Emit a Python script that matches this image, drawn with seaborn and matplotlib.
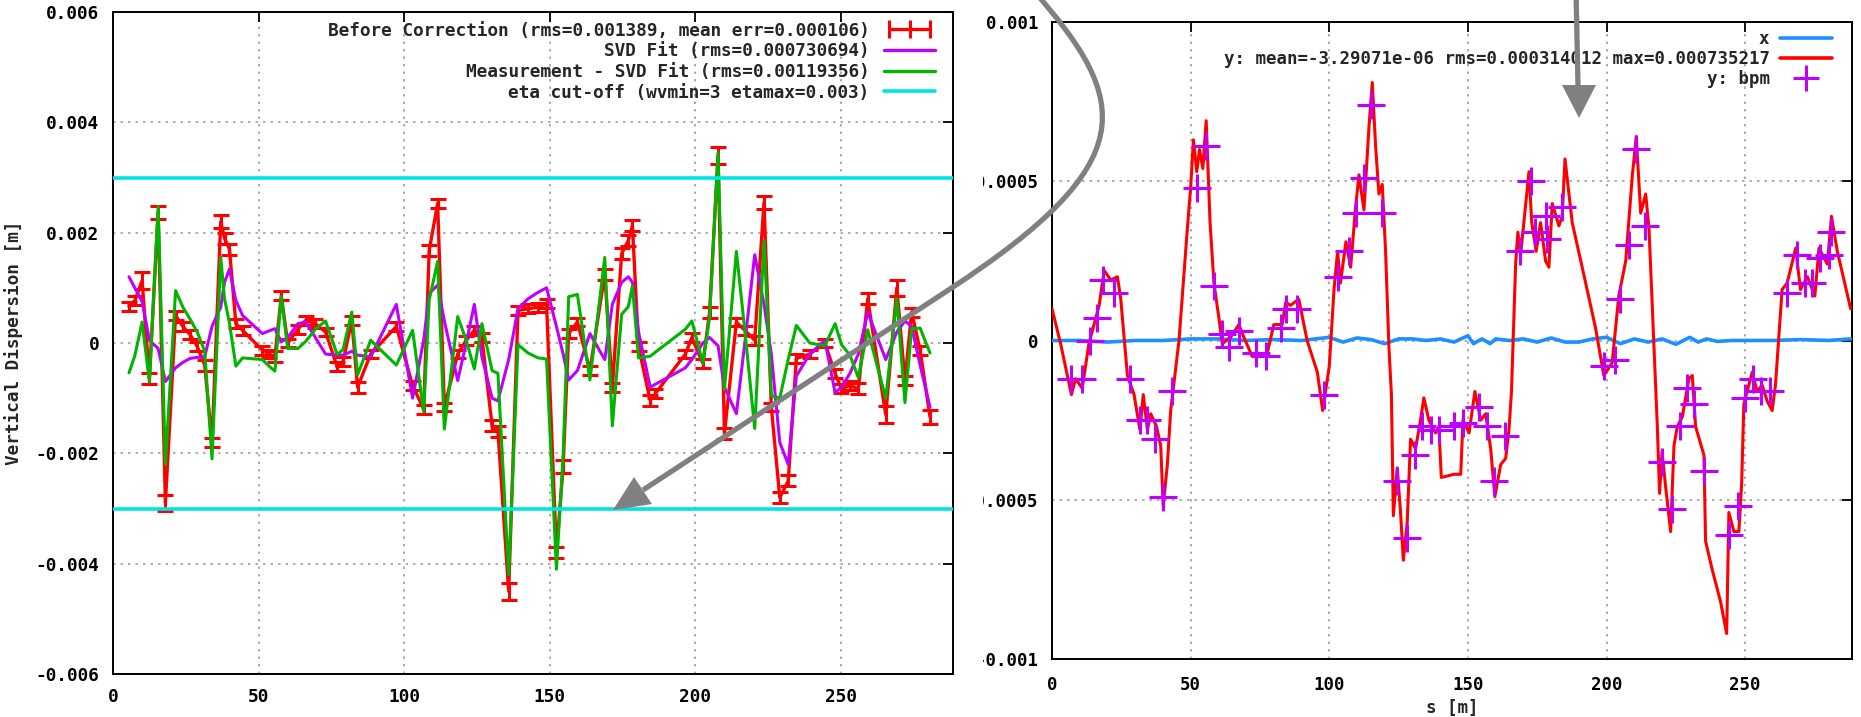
import matplotlib
matplotlib.use("Agg")
import numpy as np
import pandas as pd
import matplotlib.pyplot as plt
import seaborn as sns
from matplotlib.lines import Line2D
from matplotlib.legend_handler import HandlerLine2D
from matplotlib.path import Path
from matplotlib.patches import PathPatch, Polygon

# ---------------- left panel data (vertical dispersion at BPMs) ----------------
bpm_s = [5.5, 7.5, 10.0, 12.5, 15.5, 18.0, 21.5, 24.0, 26.5, 29.0,
         31.5, 34.0, 37.0, 38.3, 40.0, 42.2, 44.5, 51.3, 53.6, 55.6,
         57.8, 60.0, 63.5, 66.2, 69.5, 73.0, 77.0, 79.0, 82.0, 84.0,
         88.5, 97.3, 102.9, 106.7, 108.6, 111.5, 113.8, 118.4, 121.3, 124.1,
         126.7, 130.2, 132.2, 135.9, 139.1, 142.5, 146.0, 148.9, 152.3, 154.6,
         156.5, 159.5, 163.8, 168.9, 171.5, 174.7, 177.0, 178.4, 180.5, 184.5,
         186.2, 196.6, 198.8, 202.6, 204.9, 207.8, 210.0, 214.1, 217.0, 220.4,
         223.6, 226.1, 229.0, 231.9, 234.7, 239.3, 244.5, 248.0, 250.2, 253.1,
         256.0, 259.2, 265.4, 269.2, 272.0, 274.3, 277.2, 280.6]
before_corr = [0.00066, 0.00077, 0.00113, -0.00065, 0.00237, -0.00290, 0.00050, 0.00030, 0.00015, -0.00007,
               -0.00040, -0.00180, 0.00220, 0.00190, 0.00170, 0.00035, 0.00023, -0.00013, -0.00020, -0.00025,
               0.00086, 0.00000, 0.00025, 0.00041, 0.00035, 0.00020, -0.00043, -0.00034, 0.00041, -0.00080,
               -0.00020, 0.00030, -0.00077, -0.00120, 0.00168, 0.00253, -0.00116, -0.00020, 0.00005, 0.00023,
               0.00010, -0.00150, -0.00160, -0.00450, 0.00059, 0.00062, 0.00065, 0.00071, -0.00380, -0.00224,
               0.00017, 0.00038, -0.00050, 0.00125, -0.00080, 0.00162, 0.00186, 0.00213, -0.00007, -0.00104,
               -0.00092, -0.00020, 0.00010, -0.00037, 0.00056, 0.00340, -0.00164, 0.00038, 0.00023, 0.00005,
               0.00255, -0.00116, -0.00280, -0.00250, -0.00028, -0.00020, 0.00000, -0.00055, -0.00083, -0.00077,
               -0.00083, 0.00080, -0.00130, 0.00100, -0.00068, 0.00056, -0.00013, -0.00134]
before_err = [0.00008, 0.00008, 0.00015, 0.00010, 0.00012, 0.00015, 0.00008, 0.00008, 0.00008, 0.00008,
              0.00010, 0.00008, 0.00012, 0.00010, 0.00010, 0.00008, 0.00008, 0.00008, 0.00008, 0.00010,
              0.00008, 0.00008, 0.00008, 0.00008, 0.00008, 0.00008, 0.00008, 0.00008, 0.00008, 0.00010,
              0.00008, 0.00008, 0.00008, 0.00008, 0.00010, 0.00008, 0.00008, 0.00008, 0.00008, 0.00008,
              0.00008, 0.00010, 0.00010, 0.00015, 0.00008, 0.00008, 0.00008, 0.00008, 0.00010, 0.00012,
              0.00008, 0.00008, 0.00008, 0.00010, 0.00008, 0.00010, 0.00010, 0.00010, 0.00008, 0.00010,
              0.00008, 0.00008, 0.00008, 0.00008, 0.00010, 0.00015, 0.00010, 0.00008, 0.00008, 0.00008,
              0.00012, 0.00008, 0.00010, 0.00010, 0.00008, 0.00008, 0.00008, 0.00008, 0.00008, 0.00008,
              0.00010, 0.00010, 0.00015, 0.00015, 0.00008, 0.00008, 0.00008, 0.00012]
svd_fit = [0.00120, 0.00100, 0.00075, 0.00005, -0.00010, -0.00070, -0.00045, -0.00035, -0.00028, -0.00026,
           -0.00025, 0.00030, 0.00065, 0.00110, 0.00134, 0.00077, 0.00050, 0.00017, 0.00022, 0.00026,
           0.00002, 0.00010, 0.00035, 0.00038, 0.00010, -0.00020, -0.00022, -0.00022, -0.00015, -0.00022,
           -0.00025, 0.00070, -0.00100, 0.00005, 0.00090, 0.00105, 0.00040, -0.00068, 0.00000, 0.00070,
           -0.00025, -0.00100, -0.00105, -0.00030, 0.00062, 0.00080, 0.00092, 0.00100, 0.00030, -0.00020,
           -0.00067, -0.00050, 0.00017, -0.00030, 0.00070, 0.00110, 0.00120, 0.00110, 0.00020, -0.00080,
           -0.00075, -0.00045, -0.00030, 0.00000, 0.00010, -0.00005, -0.00080, -0.00128, 0.00000, 0.00160,
           0.00070, -0.00020, -0.00180, -0.00220, -0.00060, -0.00020, 0.00005, -0.00090, -0.00080, -0.00055,
           -0.00020, 0.00056, -0.00030, 0.00020, 0.00040, 0.00030, -0.00040, -0.00116]
meas_minus_fit = [-0.00054, -0.00023, 0.00038, -0.00070, 0.00247, -0.00220, 0.00095, 0.00065, 0.00043, 0.00019,
                  -0.00015, -0.00210, 0.00155, 0.00080, 0.00036, -0.00042, -0.00027, -0.00030, -0.00042, -0.00051,
                  0.00084, -0.00010, -0.00010, 0.00003, 0.00025, 0.00040, -0.00021, -0.00012, 0.00056, -0.00058,
                  0.00005, -0.00040, 0.00023, -0.00125, 0.00078, 0.00148, -0.00156, 0.00048, 0.00005, -0.00047,
                  0.00035, -0.00050, -0.00055, -0.00420, -0.00003, -0.00018, -0.00027, -0.00029, -0.00410, -0.00204,
                  0.00084, 0.00088, -0.00067, 0.00155, -0.00150, 0.00052, 0.00066, 0.00103, -0.00027, -0.00024,
                  -0.00017, 0.00025, 0.00040, -0.00037, 0.00046, 0.00345, -0.00084, 0.00166, 0.00023, -0.00155,
                  0.00185, -0.00096, -0.00100, -0.00030, 0.00032, 0.00000, -0.00005, 0.00035, -0.00003, -0.00022,
                  -0.00063, 0.00024, -0.00100, 0.00080, -0.00108, 0.00026, 0.00027, -0.00018]
eta_max = 0.003

left_xticks = [0, 50, 100, 150, 200, 250]
left_yticks = [-0.006, -0.004, -0.002, 0.0, 0.002, 0.004, 0.006]
left_yticklabels = ["-0.006", "-0.004", "-0.002", "0", "0.002", "0.004", "0.006"]
left_labels = ["Before Correction (rms=0.001389, mean err=0.000106)",
               "SVD Fit (rms=0.000730694)",
               "Measurement - SVD Fit (rms=0.00119356)",
               "eta cut-off (wvmin=3 etamax=0.003)"]

# ---------------- right panel data (orbit) ----------------
orbit_s = [0, 3.1, 7.0, 8.5, 10.9, 13.3, 17.0, 18.8, 21.2, 23.6,
           24.8, 27.2, 29.6, 31.7, 32.9, 34.4, 35.6, 37.7, 39.2, 40.1,
           41.6, 42.8, 45.8, 48.8, 50.0, 51.0, 52.2, 53.2, 54.4, 55.6,
           57.0, 58.4, 60.2, 61.4, 64.4, 67.4, 69.2, 72.2, 75.5, 77.6,
           80.0, 83.0, 84.3, 86.0, 89.0, 92.0, 95.7, 97.6, 100.0, 101.7,
           103.0, 104.0, 106.0, 107.7, 109.5, 110.7, 112.5, 114.3, 115.5, 116.7,
           117.9, 119.1, 120.3, 121.5, 122.4, 123.1, 124.5, 125.7, 126.7, 128.1,
           129.3, 131.1, 132.9, 134.1, 135.9, 138.3, 139.5, 140.4, 145.0, 147.4,
           148.2, 150.4, 152.5, 154.6, 156.4, 158.2, 159.7, 161.8, 163.6, 164.8,
           165.7, 167.2, 168.0, 169.0, 172.0, 173.0, 174.6, 176.2, 178.0, 179.2,
           180.4, 182.8, 184.0, 185.0, 187.6, 191.2, 196.0, 199.0, 202.0, 204.4,
           206.9, 209.3, 210.7, 212.3, 214.1, 215.3, 217.0, 218.3, 219.1, 220.0,
           221.3, 223.1, 224.3, 225.5, 227.3, 229.7, 230.9, 232.1, 235.1, 235.7,
           238.1, 241.1, 243.3, 244.1, 245.9, 247.7, 248.7, 249.5, 252.5, 254.3,
           256.1, 257.9, 259.7, 260.9, 263.3, 265.1, 268.2, 269.9, 272.4, 275.1,
           276.6, 279.6, 281.1, 283.2, 288.0]
orbit_y = [0.00010, -0.00001, -0.00017, -0.00012, -0.00015, -0.00001, 0.00011, 0.00022, 0.00019, 0.00020,
           0.00013, -0.00011, -0.00017, -0.00028, -0.00017, -0.00028, -0.00023, -0.00027, -0.00033, -0.00052,
           -0.00039, -0.00022, 0.00000, 0.00035, 0.00048, 0.00063, 0.00053, 0.00060, 0.00054, 0.00069,
           0.00037, 0.00018, 0.00007, -0.00001, 0.00001, 0.00005, 0.00001, -0.00005, -0.00005, -0.00004,
           0.00005, 0.00005, 0.00012, 0.00011, 0.00013, 0.00000, -0.00010, -0.00022, -0.00008, 0.00016,
           0.00028, 0.00018, 0.00031, 0.00023, 0.00042, 0.00052, 0.00041, 0.00067, 0.00081, 0.00061,
           0.00046, 0.00049, 0.00028, -0.00002, -0.00017, -0.00055, -0.00040, -0.00054, -0.00069, -0.00057,
           -0.00031, -0.00034, -0.00025, -0.00018, -0.00025, -0.00029, -0.00027, -0.00043, -0.00042, -0.00042,
           -0.00025, -0.00029, -0.00016, -0.00025, -0.00023, -0.00034, -0.00049, -0.00039, -0.00037, -0.00028,
           -0.00016, 0.00024, 0.00034, 0.00027, 0.00053, 0.00037, 0.00028, 0.00037, 0.00025, 0.00023,
           0.00043, 0.00036, 0.00039, 0.00057, 0.00037, 0.00023, 0.00004, -0.00011, -0.00007, 0.00014,
           0.00025, 0.00052, 0.00064, 0.00040, 0.00046, 0.00035, 0.00000, -0.00027, -0.00048, -0.00035,
           -0.00046, -0.00060, -0.00033, -0.00027, -0.00024, -0.00012, -0.00011, -0.00027, -0.00036, -0.00063,
           -0.00072, -0.00082, -0.00092, -0.00054, -0.00060, -0.00060, -0.00045, -0.00020, -0.00010, -0.00016,
           -0.00014, -0.00019, -0.00022, -0.00014, 0.00016, 0.00018, 0.00029, 0.00016, 0.00020, 0.00014,
           0.00029, 0.00024, 0.00039, 0.00028, 0.00010]
orbit_x_s = [0, 10, 20, 30, 40, 50, 60, 70, 80, 90, 100, 105, 110, 115, 120, 125, 130, 135, 140, 145,
             150, 152, 155, 158, 160, 165, 170, 175, 180, 185, 190, 195, 200, 205, 210, 215, 220, 225, 230, 233,
             236, 240, 245, 250, 260, 270, 280, 288]
orbit_x = [0.0, 0.0, -0.000005, 0.0, 0.0, 0.000005, 0.000005, 0.0, 0.000003, 0.0, 0.00001, -0.000005, 0.000008,
           0.000003, -0.00001, 0.000005, 0.000005, 0.0, 0.000005, -0.000005, 0.000015, -0.00001, 0.000005,
           -0.00001, 0.000005, 0.0, 0.000005, -0.000005, 0.000008, -0.000005, -0.000005, 0.000005, 0.00001,
           -0.00001, 0.000005, -0.000005, 0.000005, -0.000012, 0.00001, -0.000005, 0.000005, -0.000003, 0.0,
           0.0, 0.0, 0.000003, 0.0, 0.000005]
bpm2_s = [6.7, 10.9, 13.6, 16.3, 18.5, 22.4, 28.1, 31.7, 34.4, 37.1,
          40.0, 43.4, 52.4, 55.6, 58.4, 61.2, 63.8, 67.4, 73.4, 77.0,
          82.5, 84.4, 88.5, 98.0, 103.0, 107.0, 109.5, 112.5, 115.0, 118.9,
          124.5, 127.9, 130.9, 133.3, 136.5, 139.5, 145.0, 148.2, 154.0, 157.0,
          159.4, 163.3, 168.8, 172.6, 174.2, 178.0, 178.4, 184.0, 199.0, 202.9,
          205.0, 208.0, 210.5, 214.0, 220.0, 223.7, 226.4, 229.0, 231.7, 235.0,
          244.0, 247.5, 249.8, 252.9, 255.8, 259.0, 265.1, 268.8, 271.5, 274.2,
          276.8, 280.2, 281.1]
bpm2_y = [-0.00012, -0.00012, 0.0, 0.00007, 0.00019, 0.00015, -0.00012, -0.00025, -0.00025, -0.00031,
          -0.00049, -0.00016, 0.00048, 0.00061, 0.00017, 0.00002, -0.00002, 0.00003, -0.00004, -0.00005,
          0.00004, 0.0001, 0.0001, -0.00017, 0.0002, 0.00028, 0.0004, 0.00051, 0.00074, 0.0004,
          -0.00044, -0.00062, -0.00036, -0.00027, -0.00028, -0.00028, -0.00027, -0.00026, -0.00021, -0.00027,
          -0.00044, -0.0003, 0.00028, 0.0005, 0.00034, 0.00039, 0.00032, 0.00042, -0.00008, -0.00006,
          0.00013, 0.0003, 0.0006, 0.00036, -0.00038, -0.00053, -0.00027, -0.00015, -0.0002, -0.00041,
          -0.00061, -0.00052, -0.00018, -0.00012, -0.00016, -0.00016, 0.00015, 0.00027, 0.00018, 0.00018,
          0.00026, 0.00027, 0.00034]
right_xticks = [0, 50, 100, 150, 200, 250]
right_yticks = [-0.001, -0.0005, 0.0, 0.0005, 0.001]
right_yticklabels = ["-0.001", "-0.0005", "0", "0.0005", "0.001"]
right_labels = ["x", "y: mean=-3.29071e-06 rms=0.000314012 max=0.000735217", "y: bpm"]

# ---------------- style ----------------
sns.set_style("white")
plt.rcParams["font.family"] = ["DejaVu Sans Mono"]
plt.rcParams["font.weight"] = "bold"
plt.rcParams["axes.unicode_minus"] = False
FS = 12.8
FS_R = 12.5

C_RED, C_PUR, C_GRN, C_CYN, C_BLU = "#ff0000", "#c000ff", "#00b400", "#00e4e4", "#1e8fff"
GRID = dict(color="#a0a0a0", linestyle=(0, (1.5, 3.0)), linewidth=1.2)

W, H = 1861, 717
fig = plt.figure(figsize=(W / 100, H / 100), dpi=100)
fig.patch.set_facecolor("white")

def fr(l, t, r, b):
    return [l / W, (H - b) / H, (r - l) / W, (b - t) / H]

axR = fig.add_axes(fr(1052, 22, 1852, 659), zorder=0)
cover = fig.add_axes(fr(0, 0, 983, H), zorder=1)
cover.set_facecolor("white"); cover.set_xticks([]); cover.set_yticks([])
for sp in cover.spines.values():
    sp.set_visible(False)
axL = fig.add_axes(fr(113, 12, 953, 674), zorder=2)
axO = fig.add_axes([0, 0, 1, 1], zorder=5)

def style_axes(ax, fs):
    ax.set_facecolor("white")
    for sp in ax.spines.values():
        sp.set_visible(True); sp.set_color("black"); sp.set_linewidth(1.4)
    ax.tick_params(direction="in", length=7, width=1.3, top=True, right=True,
                   labelsize=fs, pad=10, colors="black")
    ax.grid(True, **GRID)
    ax.set_axisbelow(True)

# ---------------- left panel ----------------
dfL = pd.DataFrame({"s": bpm_s, "before": before_corr, "svd": svd_fit, "resid": meas_minus_fit})
sns.lineplot(data=dfL, x="s", y="before", ax=axL, color=C_RED, lw=2.4, sort=False, estimator=None, zorder=3)
axL.errorbar(bpm_s, before_corr, yerr=before_err, fmt="none", ecolor=C_RED, elinewidth=2.2,
             capsize=5.5, capthick=2.2, zorder=3)
sns.lineplot(data=dfL, x="s", y="svd", ax=axL, color=C_PUR, lw=2.2, sort=False, estimator=None, zorder=4)
sns.lineplot(data=dfL, x="s", y="resid", ax=axL, color=C_GRN, lw=2.2, sort=False, estimator=None, zorder=5)
axL.axhline(eta_max, color=C_CYN, lw=2.6, zorder=6)
axL.axhline(-eta_max, color=C_CYN, lw=2.6, zorder=6)
axL.set_xlim(0, 288.5)
axL.set_ylim(-0.006, 0.006)
axL.set_xticks(left_xticks)
axL.set_xticklabels([str(v) for v in left_xticks])
axL.set_yticks(left_yticks)
axL.set_yticklabels(left_yticklabels)
axL.set_xlabel("")
axL.set_ylabel("Vertical Dispersion [m]", fontsize=FS, fontweight="bold")
axL.yaxis.set_label_coords(-0.107, 0.5)
style_axes(axL, FS)

h_red = Line2D([], [], color=C_RED, lw=2.4, marker="|", markersize=13, markeredgewidth=2.2)
hL = [h_red,
      Line2D([], [], color=C_PUR, lw=2.4),
      Line2D([], [], color=C_GRN, lw=2.4),
      Line2D([], [], color=C_CYN, lw=2.6)]
legL = axL.legend(hL, left_labels, loc="upper right", bbox_to_anchor=(0.979, 0.9855),
                  frameon=False, markerfirst=False, fontsize=FS, handlelength=2.9,
                  handletextpad=0.8, labelspacing=0.15, borderpad=0, borderaxespad=0,
                  numpoints=1, handler_map={h_red: HandlerLine2D(numpoints=3)})

# ---------------- right panel ----------------
dfX = pd.DataFrame({"s": orbit_x_s, "x": orbit_x})
dfY = pd.DataFrame({"s": orbit_s, "y": orbit_y})
dfB = pd.DataFrame({"s": bpm2_s, "y": bpm2_y})
sns.lineplot(data=dfX, x="s", y="x", ax=axR, color=C_BLU, lw=2.6, sort=False, estimator=None, zorder=3)
sns.lineplot(data=dfY, x="s", y="y", ax=axR, color=C_RED, lw=2.2, sort=False, estimator=None, zorder=4)
sns.scatterplot(data=dfB, x="s", y="y", ax=axR, marker="+", s=380, color=C_PUR, linewidth=2.2, zorder=5)
axR.set_xlim(0, 288.5)
axR.set_ylim(-0.001, 0.001)
axR.set_xticks(right_xticks)
axR.set_xticklabels([str(v) for v in right_xticks])
axR.set_yticks(right_yticks)
axR.set_yticklabels(right_yticklabels)
axR.set_ylabel("")
axR.set_xlabel("s [m]", fontsize=FS_R, fontweight="bold")
axR.xaxis.set_label_coords(0.5, -0.062)
style_axes(axR, FS_R)
axR.tick_params(axis="x", pad=12)

hR = [Line2D([], [], color=C_BLU, lw=2.6),
      Line2D([], [], color=C_RED, lw=2.6),
      Line2D([], [], color=C_PUR, lw=0, marker="+", markersize=19, markeredgewidth=2.2)]
legR = axR.legend(hR, right_labels, loc="upper right", bbox_to_anchor=(0.975, 0.987),
                  frameon=False, markerfirst=False, fontsize=FS_R, handlelength=3.0,
                  handletextpad=0.6, labelspacing=0.12, borderpad=0, borderaxespad=0,
                  numpoints=1)

# ---------------- grey annotation arrows (figure pixel space) ----------------
axO.set_xlim(0, W); axO.set_ylim(H, 0); axO.axis("off")
GREY = "#808080"
arrow1 = Path([(1033, -10), (1132, 102), (1142, 163), (950, 289), (643, 490)],
              [Path.MOVETO, Path.CURVE4, Path.CURVE4, Path.CURVE4, Path.LINETO])
axO.add_patch(PathPatch(arrow1, facecolor="none", edgecolor=GREY, lw=3.8, capstyle="butt"))
axO.add_patch(Polygon([(613, 510), (652, 504), (634, 477)], closed=True, color=GREY, lw=0))
arrow2 = Path([(1576, -10), (1578, 86)], [Path.MOVETO, Path.LINETO])
axO.add_patch(PathPatch(arrow2, facecolor="none", edgecolor=GREY, lw=3.8, capstyle="butt"))
axO.add_patch(Polygon([(1579, 118), (1562, 85), (1596, 85)], closed=True, color=GREY, lw=0))

fig.savefig("out.png", dpi=100, facecolor="white")
